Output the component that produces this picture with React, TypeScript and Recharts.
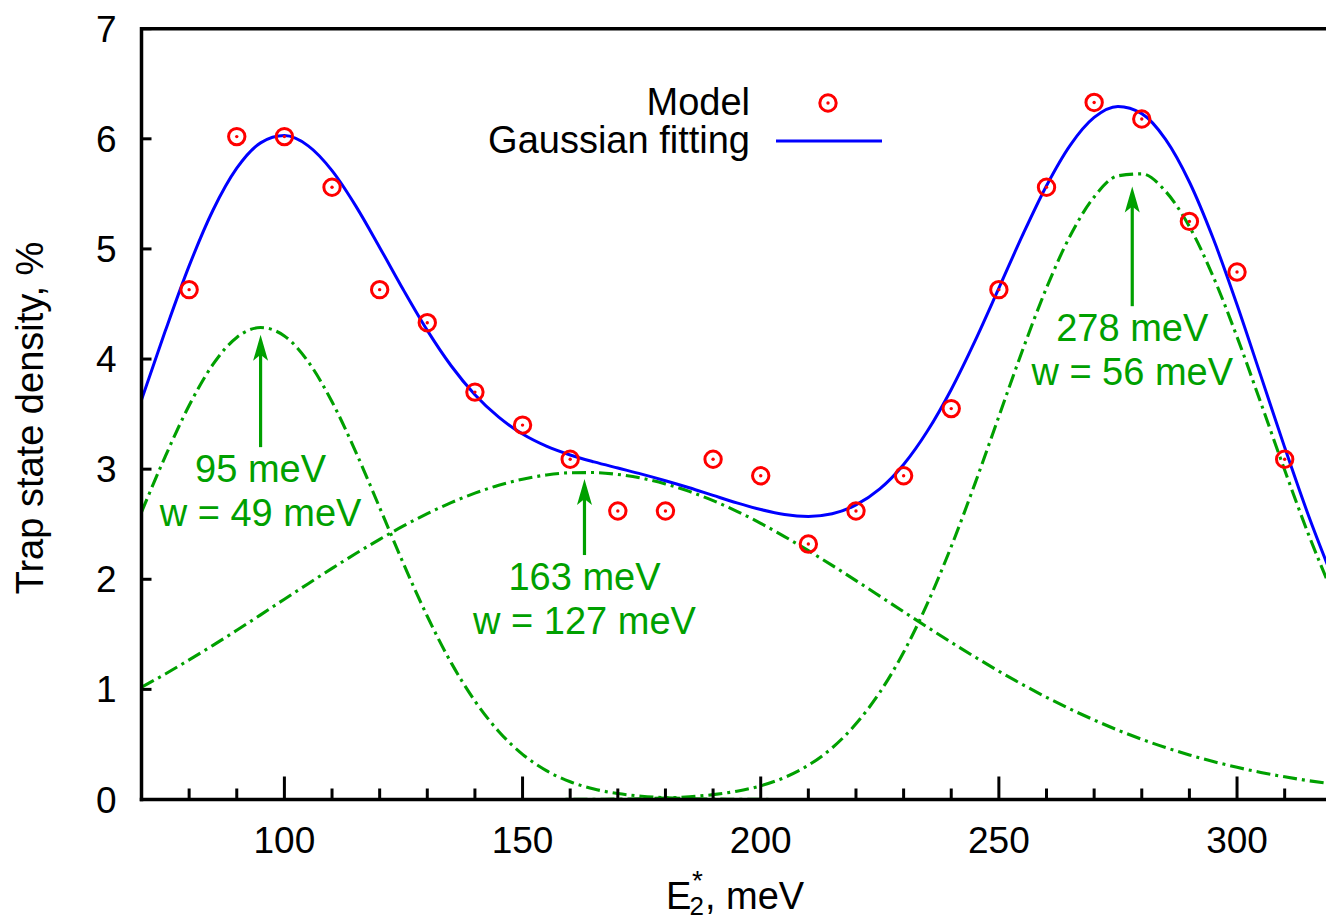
import React from 'react';
import {
  ComposedChart,
  Line,
  Scatter,
  XAxis,
  YAxis,
  ReferenceLine,
  ReferenceDot,
  Legend,
} from 'recharts';

const FONT = '"Liberation Sans", Arial, Helvetica, sans-serif';
const GREEN = '#00a000';
const BLUE = '#0000ff';
const RED = '#ff0000';

// Curve grid (E2*, meV)
const curveX = [
  70, 75, 80, 85, 90, 95, 100, 105, 110, 115, 120, 125, 130, 135, 140, 145,
  150, 155, 160, 165, 170, 175, 180, 185, 190, 195, 200, 205, 210, 215, 220,
  225, 230, 235, 240, 245, 250, 255, 260, 265, 270, 275, 280, 285, 290, 295,
  300, 305, 310, 315, 320,
];
// Gaussian component 1 (95 meV)
const peak1 = [
  2.61, 3.116, 3.578, 3.951, 4.196, 4.286, 4.21, 3.976, 3.612, 3.155, 2.651,
  2.142, 1.664, 1.243, 0.894, 0.618, 0.41, 0.262, 0.161, 0.095, 0.054, 0.03,
  0.016, 0.008, 0.004, 0.002, 0.001, 0, 0, 0, 0, 0, 0, 0, 0, 0, 0, 0, 0, 0, 0,
  0, 0, 0, 0, 0, 0, 0, 0, 0, 0,
];
// Gaussian component 2 (163 meV)
const peak2 = [
  1.02, 1.14, 1.268, 1.4, 1.537, 1.677, 1.819, 1.96, 2.099, 2.234, 2.363,
  2.485, 2.596, 2.696, 2.782, 2.854, 2.909, 2.947, 2.967, 2.969, 2.952, 2.918,
  2.866, 2.798, 2.714, 2.617, 2.508, 2.388, 2.26, 2.126, 1.988, 1.847, 1.705,
  1.565, 1.427, 1.294, 1.165, 1.043, 0.928, 0.821, 0.722, 0.63, 0.547, 0.472,
  0.405, 0.345, 0.292, 0.246, 0.206, 0.171, 0.141,
];
// Gaussian component 3 (278 meV)
const peak3 = [
  0, 0, 0, 0, 0, 0, 0, 0, 0, 0, 0, 0, 0, 0, 0, 0, 0, 0, 0.001, 0.002, 0.004,
  0.007, 0.014, 0.025, 0.044, 0.075, 0.124, 0.2, 0.311, 0.469, 0.687, 0.973,
  1.337, 1.781, 2.297, 2.871, 3.479, 4.084, 4.646, 5.122, 5.472, 5.664, 5.682,
  5.523, 5.203, 4.749, 4.201, 3.601, 2.992, 2.408, 1.879,
];
// Gaussian fitting (total)
const fitting = [
  3.63, 4.256, 4.846, 5.351, 5.733, 5.963, 6.029, 5.936, 5.711, 5.389, 5.014,
  4.627, 4.26, 3.939, 3.676, 3.472, 3.319, 3.209, 3.129, 3.066, 3.01, 2.955,
  2.895, 2.831, 2.762, 2.694, 2.633, 2.588, 2.571, 2.595, 2.675, 2.82, 3.042,
  3.346, 3.724, 4.165, 4.644, 5.127, 5.574, 5.943, 6.194, 6.294, 6.229, 5.995,
  5.608, 5.094, 4.493, 3.847, 3.198, 2.579, 2.02,
];

// Model points
const modelX = [
  80, 90, 100, 110, 120, 130, 140, 150, 160, 170, 180, 190, 200, 210, 220, 230,
  240, 250, 260, 270, 280, 290, 300, 310,
];
const modelY = [
  4.63, 6.02, 6.02, 5.56, 4.63, 4.33, 3.7, 3.4, 3.09, 2.62, 2.62, 3.09, 2.94,
  2.32, 2.62, 2.94, 3.55, 4.63, 5.56, 6.33, 6.18, 5.25, 4.79, 3.09,
];

// Axis ticks
const xTicks = [
  80, 90, 100, 110, 120, 130, 140, 150, 160, 170, 180, 190, 200, 210, 220, 230,
  240, 250, 260, 270, 280, 290, 300, 310,
];
const xMajor = [100, 150, 200, 250, 300];
const yTicks = [0, 1, 2, 3, 4, 5, 6, 7];

// Annotations
const annX = [95, 163, 278];
const annTail = [3.2, 2.22, 4.48];
const annTip = [4.22, 2.91, 5.566];
const annLine1 = ['95 meV', '163 meV', '278 meV'];
const annLine2 = ['w = 49 meV', 'w = 127 meV', 'w = 56 meV'];

const curveData = curveX.map((x, i) => ({
  x,
  c1: peak1[i],
  c2: peak2[i],
  c3: peak3[i],
  fit: fitting[i],
}));
const modelData = modelX.map((x, i) => ({ x, y: modelY[i] }));

const Y_MARGIN = 25;
const X_MARGIN = 27;
const FS_TICK = 37;
const FS = 38;

const YTick = (props: any) => {
  const { x, y, payload } = props;
  return (
    <g>
      <line
        x1={x + Y_MARGIN}
        x2={x + Y_MARGIN + 10}
        y1={y}
        y2={y}
        stroke="#000"
        strokeWidth={3}
      />
      <text
        x={x}
        y={y}
        dy={13}
        textAnchor="end"
        fontSize={FS_TICK}
        fontFamily={FONT}
        fill="#000"
      >
        {payload.value}
      </text>
    </g>
  );
};

const XTick = (props: any) => {
  const { x, y, payload } = props;
  const major = xMajor.includes(payload.value);
  const base = y - X_MARGIN;
  return (
    <g>
      <line
        x1={x}
        x2={x}
        y1={base}
        y2={base - (major ? 23 : 11)}
        stroke="#000"
        strokeWidth={3}
      />
      {major && (
        <text
          x={x}
          y={y}
          dy={26.5}
          textAnchor="middle"
          fontSize={FS_TICK}
          fontFamily={FONT}
          fill="#000"
        >
          {payload.value}
        </text>
      )}
    </g>
  );
};

const ModelDot = (props: any) => {
  const { cx, cy } = props;
  if (cx == null || cy == null) return <g />;
  return (
    <g>
      <circle cx={cx} cy={cy} r={8.2} fill="none" stroke={RED} strokeWidth={3} />
      <circle cx={cx} cy={cy} r={1.7} fill={RED} />
    </g>
  );
};

const ArrowHead = (props: any) => {
  const { cx, cy } = props;
  return (
    <polygon
      points={`${cx},${cy} ${cx - 7.5},${cy + 26} ${cx},${cy + 20} ${cx + 7.5},${cy + 26}`}
      fill={GREEN}
    />
  );
};

const makeAnnText = (i: number) => (props: any) => {
  const { cx, cy } = props;
  return (
    <g>
      <text
        x={cx}
        y={cy + 35}
        textAnchor="middle"
        fontSize={FS}
        fontFamily={FONT}
        fill={GREEN}
      >
        {annLine1[i]}
      </text>
      <text
        x={cx}
        y={cy + 79}
        textAnchor="middle"
        fontSize={FS}
        fontFamily={FONT}
        fill={GREEN}
      >
        {annLine2[i]}
      </text>
    </g>
  );
};

const XLabel = (props: any) => {
  const vb = props.viewBox || {};
  const cx = vb.x + vb.width / 2;
  const base = 909;
  return (
    <g fontFamily={FONT} fill="#000">
      <text x={cx - 71} y={base} fontSize={FS}>
        E
      </text>
      <text x={cx - 47.5} y={base + 6} fontSize={26}>
        2
      </text>
      <text x={cx - 45} y={base - 19} fontSize={28}>
        *
      </text>
      <text x={cx - 32} y={base} fontSize={FS}>
        , meV
      </text>
    </g>
  );
};

const YLabel = () => (
  <text
    transform="translate(43, 418) rotate(-90)"
    textAnchor="middle"
    fontSize={FS}
    fontFamily={FONT}
    fill="#000"
  >
    Trap state density, %
  </text>
);

const LegendBox = () => (
  <svg width={1340} height={200} style={{ display: 'block' }}>
    <g fontFamily={FONT} fontSize={FS} fill="#000">
      <text x={750} y={115} textAnchor="end">
        Model
      </text>
      <text x={750} y={153} textAnchor="end">
        Gaussian fitting
      </text>
    </g>
    <circle cx={828} cy={103} r={8.2} fill="none" stroke={RED} strokeWidth={3} />
    <circle cx={828} cy={103} r={1.7} fill={RED} />
    <line x1={776} x2={882} y1={141} y2={141} stroke={BLUE} strokeWidth={3} />
  </svg>
);

const GREEN_DASH = '14 5 3 5';

export default function App() {
  return (
    <div
      style={{
        position: 'fixed',
        left: 0,
        top: 0,
        width: 1326,
        height: 921,
        overflow: 'hidden',
        background: '#fff',
      }}
    >
      <ComposedChart
        width={1340}
        height={921}
        data={curveData}
        margin={{ top: 28.7, right: 7.7, left: 81.5, bottom: 91.5 }}
      >
        <XAxis
          dataKey="x"
          type="number"
          domain={[70, 320]}
          ticks={xTicks}
          interval={0}
          allowDataOverflow
          height={30}
          tickSize={0}
          tickMargin={X_MARGIN}
          tickLine={false}
          tick={<XTick />}
          axisLine={{ stroke: '#000', strokeWidth: 3.5, strokeLinecap: 'square' }}
          label={<XLabel />}
        />
        <YAxis
          type="number"
          domain={[0, 7]}
          ticks={yTicks}
          interval={0}
          allowDataOverflow
          width={60}
          tickSize={0}
          tickMargin={Y_MARGIN}
          tickLine={false}
          tick={<YTick />}
          axisLine={{ stroke: '#000', strokeWidth: 3.5, strokeLinecap: 'square' }}
          label={<YLabel />}
        />
        <ReferenceLine y={7} stroke="#000" strokeWidth={3.5} />
        <Legend
          layout="horizontal"
          verticalAlign="middle"
          align="center"
          wrapperStyle={{
            position: 'absolute',
            left: 0,
            top: 0,
            width: 1340,
            height: 200,
            margin: 0,
            padding: 0,
          }}
          content={() => <LegendBox />}
        />
        <Line
          dataKey="c1"
          type="monotone"
          stroke={GREEN}
          strokeWidth={3.1}
          strokeDasharray={GREEN_DASH}
          dot={false}
          activeDot={false}
          isAnimationActive={false}
          legendType="none"
        />
        <Line
          dataKey="c2"
          type="monotone"
          stroke={GREEN}
          strokeWidth={3.1}
          strokeDasharray={GREEN_DASH}
          dot={false}
          activeDot={false}
          isAnimationActive={false}
          legendType="none"
        />
        <Line
          dataKey="c3"
          type="monotone"
          stroke={GREEN}
          strokeWidth={3.1}
          strokeDasharray={GREEN_DASH}
          dot={false}
          activeDot={false}
          isAnimationActive={false}
          legendType="none"
        />
        <Line
          dataKey="fit"
          name="Gaussian fitting"
          type="monotone"
          stroke={BLUE}
          strokeWidth={3}
          dot={false}
          activeDot={false}
          isAnimationActive={false}
        />
        {annX.map((x, i) => (
          <ReferenceLine
            key={`shaft${i}`}
            segment={[
              { x, y: annTail[i] },
              { x, y: annTip[i] - 0.1 },
            ]}
            stroke={GREEN}
            strokeWidth={3.2}
          />
        ))}
        {annX.map((x, i) => (
          <ReferenceDot
            key={`head${i}`}
            x={x}
            y={annTip[i]}
            r={0}
            shape={<ArrowHead />}
          />
        ))}
        {annX.map((x, i) => (
          <ReferenceDot
            key={`text${i}`}
            x={x}
            y={annTail[i]}
            r={0}
            shape={makeAnnText(i)}
          />
        ))}
        <Scatter
          name="Model"
          data={modelData}
          dataKey="y"
          shape={<ModelDot />}
          isAnimationActive={false}
        />
      </ComposedChart>
    </div>
  );
}
